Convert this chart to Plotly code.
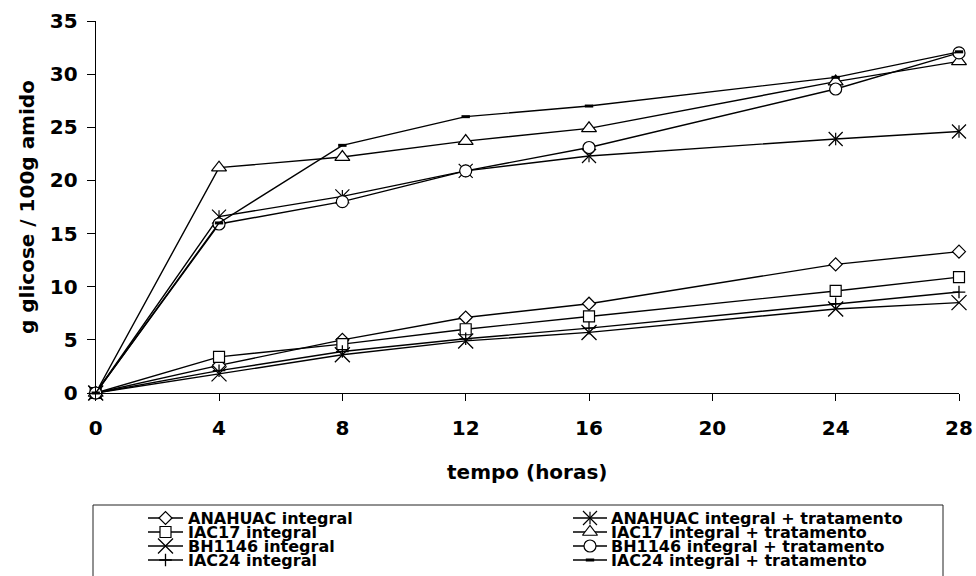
import plotly.graph_objects as go

# Hydrolysis time (hours)
horas = [0, 4, 8, 12, 16, 24, 28]

# g glucose / 100 g starch for each flour
anahuac_integral = [0, 2.6, 5.0, 7.1, 8.4, 12.1, 13.3]
iac17_integral = [0, 3.4, 4.6, 6.0, 7.2, 9.6, 10.9]
bh1146_integral = [0, 1.8, 3.6, 4.9, 5.7, 7.9, 8.5]
iac24_integral = [0, 2.1, 3.9, 5.1, 6.1, 8.4, 9.5]
anahuac_tratamento = [0, 16.6, 18.5, 20.9, 22.3, 23.9, 24.6]
iac17_tratamento = [0, 21.2, 22.2, 23.7, 24.9, 29.3, 31.2]
bh1146_tratamento = [0, 15.9, 18.0, 20.9, 23.1, 28.6, 32.0]
iac24_tratamento = [0, 16.0, 23.3, 26.0, 27.0, 29.7, 32.1]

x_ticks = [0, 4, 8, 12, 16, 20, 24, 28]
y_ticks = [0, 5, 10, 15, 20, 25, 30, 35]

nomes = [
    "ANAHUAC integral",
    "IAC17 integral",
    "BH1146 integral",
    "IAC24 integral",
    "ANAHUAC integral + tratamento",
    "IAC17 integral + tratamento",
    "BH1146 integral + tratamento",
    "IAC24 integral + tratamento",
]
valores = [
    anahuac_integral, iac17_integral, bh1146_integral, iac24_integral,
    anahuac_tratamento, iac17_tratamento, bh1146_tratamento, iac24_tratamento,
]

# marker layers per series: list of (symbol, size, line width, filled white)
estilos = [
    [("diamond", 10, 1.2, True)],
    [("square", 11, 1.2, True)],
    [("x-thin-open", 15, 1.3, False)],
    [("cross-thin-open", 9, 1.3, False)],
    [("x-thin-open", 14, 1.2, False), ("line-ns-open", 9, 1.2, False)],
    [("triangle-up", 13, 1.2, True)],
    [("circle", 12, 1.2, True)],
    [("line-ew-open", 6, 3.0, False)],
]

W, H = 976, 576
PX_L, PX_R, PX_T, PX_B = 95.7, 959.0, 21.0, 393.0
FONT = "DejaVu Sans"
NEGRO = "#000000"


def marcador(simbolo, tamanho, lw, cheio):
    return dict(
        symbol=simbolo,
        size=tamanho,
        color="white" if cheio else NEGRO,
        line=dict(color=NEGRO, width=lw),
    )


fig = go.Figure()

for nome, ys, camadas in zip(nomes, valores, estilos):
    fig.add_trace(go.Scatter(
        x=horas, y=ys, name=nome, mode="lines+markers",
        line=dict(color=NEGRO, width=1.4),
        marker=marcador(*camadas[0]),
        cliponaxis=False, showlegend=False,
        xaxis="x", yaxis="y",
    ))
    for extra in camadas[1:]:
        fig.add_trace(go.Scatter(
            x=horas, y=ys, name=nome, mode="markers",
            marker=marcador(*extra),
            cliponaxis=False, showlegend=False, hoverinfo="skip",
            xaxis="x", yaxis="y",
        ))

# Legend drawn on a pixel-unit overlay axis below the chart
leg_box = (93, 505, 943, 590)
leg_rows = [518, 532, 546, 560]
leg_cols = [(148, 183, 186), (573, 607, 609)]

for i, (nome, camadas) in enumerate(zip(nomes, estilos)):
    col = i // 4
    row = leg_rows[i % 4]
    x0, x1, xt = leg_cols[col]
    fig.add_trace(go.Scatter(
        x=[x0, x1], y=[row, row], mode="lines",
        line=dict(color=NEGRO, width=1.4),
        xaxis="x2", yaxis="y2", showlegend=False, hoverinfo="skip",
    ))
    for camada in camadas:
        fig.add_trace(go.Scatter(
            x=[(x0 + x1) / 2], y=[row], mode="markers",
            marker=marcador(*camada),
            xaxis="x2", yaxis="y2", showlegend=False, hoverinfo="skip",
            cliponaxis=False,
        ))
    fig.add_annotation(
        x=xt, y=row, xref="x2", yref="y2", text=nome, showarrow=False,
        xanchor="left", yanchor="middle",
        font=dict(family=FONT, size=16, color=NEGRO, weight="bold"),
    )

fig.add_shape(
    type="rect", xref="x2", yref="y2",
    x0=leg_box[0], y0=leg_box[1], x1=leg_box[2], y1=leg_box[3],
    line=dict(color="#222222", width=1), fillcolor="rgba(0,0,0,0)",
    layer="below",
)

# Axis titles
fig.add_annotation(
    x=(PX_L + PX_R) / 2, y=472, xref="x2", yref="y2", text="tempo (horas)",
    showarrow=False, xanchor="center", yanchor="middle",
    font=dict(family=FONT, size=20, color=NEGRO, weight="bold"),
)
fig.add_annotation(
    x=27, y=(PX_T + PX_B) / 2, xref="x2", yref="y2",
    text="g glicose / 100g amido", textangle=-90,
    showarrow=False, xanchor="center", yanchor="middle",
    font=dict(family=FONT, size=20, color=NEGRO, weight="bold"),
)

tick_font = dict(family=FONT, size=20, color=NEGRO, weight="bold")

fig.update_layout(
    template="none",
    width=W, height=H, autosize=False,
    margin=dict(l=0, r=0, t=0, b=0, pad=0, autoexpand=False),
    paper_bgcolor="white", plot_bgcolor="rgba(0,0,0,0)",
    showlegend=False,
    xaxis=dict(
        domain=[PX_L / W, PX_R / W], range=[0, 28], automargin=False,
        tickmode="array", tickvals=x_ticks, ticktext=[str(v) for v in x_ticks],
        ticks="outside", ticklen=7, tickwidth=1, tickcolor=NEGRO,
        showline=True, linecolor=NEGRO, linewidth=1,
        showgrid=False, zeroline=False, tickfont=tick_font,
        ticklabelstandoff=10, anchor="y",
    ),
    yaxis=dict(
        domain=[(H - PX_B) / H, (H - PX_T) / H], range=[0, 35],
        automargin=False,
        tickmode="array", tickvals=y_ticks, ticktext=[str(v) for v in y_ticks],
        ticks="outside", ticklen=8, tickwidth=1, tickcolor=NEGRO,
        showline=True, linecolor=NEGRO, linewidth=1,
        showgrid=False, zeroline=False, tickfont=tick_font,
        ticklabelstandoff=5, anchor="x",
    ),
    xaxis2=dict(
        domain=[0, 1], range=[0, W], visible=False, anchor="y2",
        fixedrange=True, automargin=False,
    ),
    yaxis2=dict(
        domain=[0, 1], range=[H, 0], visible=False, anchor="x2",
        fixedrange=True, automargin=False,
    ),
)

fig.write_html("out.html")
